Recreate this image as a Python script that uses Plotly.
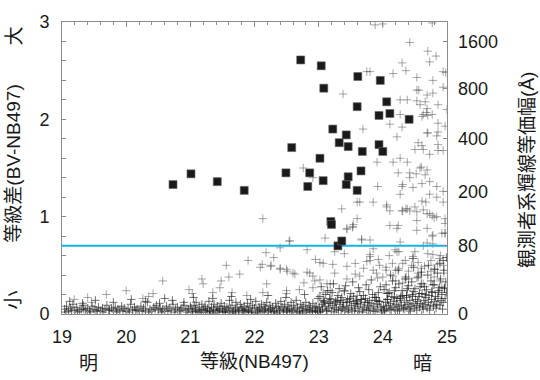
import plotly.graph_objects as go

# ---------------- data ----------------
x_min, x_max = 19, 25
y_min, y_max = 0, 3
ew_threshold = 0.7  # cyan line (80 A)

# right-axis equivalent-width labels and their positions on the left scale
ew_labels = ["0", "80", "200", "400", "800", "1600"]
ew_pos = [0.0, 0.70, 1.26, 1.80, 2.32, 2.80]

# selected emitters (filled squares)
sel_x = [20.73, 21.01, 21.42, 21.84, 22.49, 22.58, 22.72, 22.83, 22.86, 23.02,
         23.04, 23.07, 23.08, 23.19, 23.20, 23.22, 23.30, 23.36, 23.32, 23.43,
         23.43, 23.46, 23.46, 23.60, 23.60, 23.61, 23.66, 23.68, 23.94, 23.94,
         23.96, 24.00, 24.06, 24.11, 24.41]
sel_y = [1.33, 1.44, 1.36, 1.27, 1.45, 1.71, 2.61, 1.31, 1.45, 1.60,
         2.55, 1.37, 2.32, 0.95, 0.92, 1.90, 0.70, 0.75, 1.76, 1.84,
         1.33, 1.72, 1.41, 2.13, 1.27, 2.44, 1.47, 1.67, 2.04, 1.74,
         2.40, 1.67, 2.18, 2.06, 2.00]

# all detected objects (crosses): dense band at bottom, by magnitude range
band_a_x = [19.04, 19.07, 19.10, 19.13, 19.17, 19.20, 19.23, 19.27, 19.30, 19.33,
            19.37, 19.40, 19.43, 19.47, 19.50, 19.53, 19.57, 19.60, 19.63, 19.67,
            19.70, 19.73, 19.77, 19.80, 19.83, 19.87, 19.90, 19.93, 19.97, 20.00,
            20.03, 20.07, 20.10, 20.13, 20.17, 20.20, 20.23, 20.27, 20.30, 20.33,
            20.37, 20.40, 20.43, 20.47, 20.50, 20.53, 20.57, 20.60, 20.63, 20.67,
            20.70, 20.73, 20.77, 20.80, 20.83, 20.87, 20.90, 20.93, 20.97, 21.00,
            19.06, 19.15, 19.24, 19.34, 19.44, 19.55, 19.64, 19.74, 19.85, 19.95,
            20.05, 20.15, 20.25, 20.35, 20.45, 20.55, 20.65, 20.75, 20.85, 20.95,
            19.12, 19.32, 19.52, 19.80, 20.08, 20.30, 20.52, 20.72, 20.90, 20.60]
band_a_y = [.05, .08, .03, .06, .10, .04, .07, .03, .05, .09,
            .04, .06, .03, .08, .05, .04, .07, .03, .06, .05,
            .09, .04, .06, .03, .07, .05, .04, .08, .06, .03,
            .05, .10, .04, .07, .05, .03, .08, .06, .04, .12,
            .05, .03, .07, .09, .04, .06, .05, .03, .08, .06,
            .04, .10, .05, .07, .03, .06, .09, .04, .05, .08,
            .02, .04, .02, .05, .02, .03, .02, .04, .02, .03,
            .02, .04, .03, .02, .05, .02, .03, .02, .04, .02,
            .13, .11, .14, .12, .15, .13, .11, .14, .12, .16]

band_b_x = [21.01, 21.03, 21.06, 21.08, 21.09, 21.12, 21.14, 21.17, 21.18, 21.21,
            21.23, 21.24, 21.27, 21.29, 21.31, 21.33, 21.36, 21.37, 21.40, 21.42,
            21.43, 21.46, 21.48, 21.50, 21.53, 21.54, 21.57, 21.59, 21.61, 21.62,
            21.65, 21.67, 21.70, 21.71, 21.73, 21.76, 21.78, 21.80, 21.83, 21.84,
            21.87, 21.89, 21.91, 21.93, 21.96, 21.97, 22.00, 22.02, 22.04, 22.07,
            22.08, 22.11, 22.13, 22.15, 22.17, 22.19, 22.22, 22.24, 22.25, 22.28,
            22.30, 22.33, 22.34, 22.37, 22.39, 22.41, 22.43, 22.46, 22.47, 22.50,
            22.52, 22.54, 22.57, 22.58, 22.61, 22.63, 22.65, 22.67, 22.70, 22.72,
            22.74, 22.76, 22.79, 22.80, 22.83, 22.85, 22.87, 22.90, 22.91, 22.94,
            22.96, 22.98, 21.05, 21.35, 21.64, 21.94, 22.21, 22.49, 22.78, 22.99,
            21.04, 21.09, 21.15, 21.20, 21.26, 21.30, 21.35, 21.41, 21.45, 21.51,
            21.55, 21.60, 21.66, 21.70, 21.75, 21.81, 21.85, 21.90, 21.95, 22.01,
            22.05, 22.10, 22.16, 22.20, 22.26, 22.31, 22.35, 22.40, 22.45, 22.51,
            22.55, 22.60, 22.66, 22.71, 22.75, 22.81, 22.86, 22.90, 22.95, 22.99]
band_b_y = [.06, .03, .09, .05, .12, .04, .07, .02, .10, .05,
            .08, .04, .06, .13, .03, .07, .05, .10, .04, .08,
            .03, .06, .11, .05, .08, .02, .07, .04, .14, .06,
            .09, .03, .05, .12, .07, .04, .10, .06, .03, .08,
            .05, .11, .04, .07, .02, .09, .06, .13, .04, .07,
            .05, .10, .03, .08, .06, .12, .04, .09, .05, .07,
            .03, .11, .06, .08, .04, .13, .07, .05, .10, .03,
            .08, .06, .12, .04, .09, .05, .14, .07, .03, .10,
            .06, .08, .04, .12, .05, .09, .07, .03, .11, .06,
            .08, .04, .17, .16, .18, .15, .19, .17, .20, .16,
            .02, .03, .02, .04, .02, .03, .01, .02, .04, .02,
            .03, .02, .01, .03, .02, .04, .02, .03, .02, .01,
            .03, .02, .04, .02, .03, .02, .01, .03, .02, .04,
            .02, .03, .02, .01, .03, .02, .04, .02, .03, .02]

band_c_x = [23.01, 23.03, 23.05, 23.06, 23.09, 23.10, 23.12, 23.15, 23.16, 23.19,
            23.20, 23.22, 23.25, 23.27, 23.28, 23.31, 23.33, 23.34, 23.37, 23.39,
            23.41, 23.43, 23.44, 23.47, 23.49, 23.51, 23.52, 23.55, 23.57, 23.58,
            23.61, 23.63, 23.65, 23.66, 23.69, 23.71, 23.72, 23.75, 23.77, 23.79,
            23.80, 23.83, 23.85, 23.86, 23.89, 23.91, 23.92, 23.95, 23.97, 23.99,
            23.02, 23.13, 23.24, 23.35, 23.46, 23.56, 23.68, 23.78, 23.88, 23.98,
            23.02, 23.07, 23.11, 23.17, 23.21, 23.26, 23.30, 23.36, 23.40, 23.45,
            23.50, 23.54, 23.59, 23.64, 23.70, 23.73, 23.78, 23.84, 23.87, 23.93,
            23.04, 23.14, 23.23, 23.32, 23.42, 23.53, 23.62, 23.74, 23.82, 23.96,
            23.08, 23.18, 23.29, 23.38, 23.48, 23.60, 23.67, 23.76, 23.90, 23.94]
band_c_y = [.07, .03, .10, .05, .13, .08, .04, .11, .06, .15,
            .03, .09, .07, .12, .05, .04, .10, .14, .06, .08,
            .03, .12, .07, .05, .16, .09, .04, .11, .06, .13,
            .08, .03, .10, .15, .05, .07, .12, .04, .09, .14,
            .06, .11, .03, .08, .17, .05, .10, .13, .07, .04,
            .02, .03, .02, .04, .02, .03, .02, .04, .03, .02,
            .18, .14, .20, .16, .22, .13, .19, .17, .24, .15,
            .21, .18, .14, .23, .19, .16, .25, .20, .17, .22,
            .28, .24, .31, .26, .29, .33, .27, .30, .35, .28,
            .12, .11, .14, .12, .13, .11, .15, .12, .14, .13]

band_d_x = [24.01, 24.02, 24.04, 24.06, 24.07, 24.09, 24.11, 24.12, 24.14, 24.16,
            24.17, 24.19, 24.21, 24.22, 24.24, 24.26, 24.27, 24.29, 24.31, 24.32,
            24.34, 24.36, 24.37, 24.39, 24.41, 24.42, 24.44, 24.46, 24.47, 24.49,
            24.51, 24.52, 24.54, 24.56, 24.57, 24.59, 24.61, 24.62, 24.64, 24.66,
            24.67, 24.69, 24.71, 24.72, 24.74, 24.76, 24.77, 24.79, 24.81, 24.82,
            24.84, 24.86, 24.87, 24.89, 24.91, 24.92, 24.94, 24.96, 24.97, 24.99,
            24.03, 24.13, 24.23, 24.33, 24.43, 24.53, 24.63, 24.73, 24.83, 24.93,
            24.08, 24.18, 24.28, 24.38, 24.48, 24.58, 24.68, 24.78, 24.88, 24.98,
            24.02, 24.05, 24.10, 24.15, 24.20, 24.25, 24.30, 24.35, 24.40, 24.45,
            24.50, 24.55, 24.60, 24.65, 24.70, 24.75, 24.80, 24.85, 24.90, 24.95,
            24.07, 24.18, 24.27, 24.37, 24.46, 24.57, 24.66, 24.76, 24.86, 24.96,
            24.12, 24.24, 24.36, 24.48, 24.60, 24.71, 24.81, 24.89, 24.94, 24.99]
band_d_y = [.08, .04, .12, .06, .15, .09, .05, .11, .18, .07,
            .13, .05, .10, .16, .08, .04, .14, .09, .19, .06,
            .12, .07, .17, .10, .05, .14, .08, .20, .11, .06,
            .15, .09, .13, .18, .07, .11, .21, .08, .14, .10,
            .17, .06, .12, .19, .09, .15, .22, .08, .13, .18,
            .10, .16, .24, .09, .14, .20, .12, .27, .16, .22,
            .03, .04, .03, .05, .03, .04, .05, .04, .06, .05,
            .21, .24, .18, .26, .23, .28, .25, .30, .27, .33,
            .25, .30, .22, .34, .27, .31, .24, .36, .29, .33,
            .26, .38, .31, .28, .40, .34, .30, .42, .36, .45,
            .15, .17, .16, .19, .18, .21, .20, .23, .22, .26,
            .40, .45, .38, .48, .43, .50, .46, .52, .55, .58]

# sparse objects above the band
sparse_x = [19.19, 19.40, 19.69, 20.00, 20.57, 20.42, 20.26, 19.46, 20.35,
            21.56, 21.18, 21.20, 21.48, 21.60, 20.98, 21.03, 21.35, 21.65, 21.88,
            22.09, 22.26, 22.40, 22.50, 22.63, 22.82, 22.91, 23.02, 23.13, 22.50,
            22.13, 22.19, 22.77, 22.91, 23.07, 23.22, 23.44, 23.57, 23.02, 21.77, 21.46,
            23.60, 23.44, 23.53, 23.67, 22.54, 22.40, 22.18, 22.82, 23.25, 23.80,
            23.07, 23.25, 23.57, 23.75, 23.93, 24.31, 24.47, 24.53, 24.31, 24.36,
            24.50, 24.63, 24.77, 24.80, 24.97, 24.77, 24.78, 24.63, 24.69, 24.06,
            24.22, 22.40, 22.51, 22.60, 22.86, 22.12, 22.25, 22.94, 23.18, 23.44,
            23.64, 23.92, 24.16, 24.31, 24.63, 24.89, 24.92, 22.50, 22.70, 23.18,
            23.40, 23.60, 24.06, 24.38,
            24.63, 24.73, 24.86, 24.16, 24.38, 24.60, 24.69, 24.24, 24.42, 24.52,
            24.73, 24.30, 24.47, 24.61, 24.84, 24.94, 23.92, 24.27, 24.73, 24.84,
            24.61, 24.67, 24.38, 24.30, 24.53, 24.73, 24.84, 24.97, 24.06, 23.64,
            23.54, 24.11, 24.53, 24.78, 24.97, 23.67, 24.27, 24.69, 23.85, 24.19,
            24.25, 24.47, 24.88, 23.80,
            24.70, 24.83, 24.30, 24.73, 23.75, 23.80, 24.16, 24.36, 24.53, 24.78,
            24.98, 24.53, 24.69, 24.78, 24.94, 24.38, 24.53, 24.66, 24.58, 24.69,
            24.86, 25.00, 24.61, 24.70, 24.68, 24.11, 24.30, 24.86, 23.69, 24.69,
            24.86, 24.22, 24.55, 24.86, 24.61, 23.88, 24.00, 24.42, 24.27, 24.27,
            24.63, 24.77, 24.97, 24.77, 24.94, 24.56, 24.84, 24.70, 24.50, 24.94,
            24.27, 23.91, 24.58, 24.42, 24.66, 24.31, 24.94, 23.85, 24.11, 24.42,
            24.69, 24.53, 24.97, 24.24, 23.80, 24.92, 24.22, 24.47, 24.78,
            22.13, 22.55, 22.76, 22.91, 23.36, 23.60, 23.44, 23.53, 23.38, 23.10,
            23.40, 22.95, 22.30, 21.90, 23.70, 23.85, 24.05, 24.20, 24.40, 24.60,
            24.80, 24.95,
            23.80, 23.95, 24.05, 24.15, 24.25, 24.35, 24.45, 24.55, 24.65, 24.75,
            24.85, 24.90, 24.70, 24.50, 24.10, 23.90, 24.00, 24.20, 24.40, 24.60,
            24.80, 24.95, 24.75, 24.55]
sparse_y = [.15, .17, .20, .24, .34, .21, .16, .12, .18,
            .50, .36, .31, .34, .38, .25, .21, .22, .22, .19,
            .48, .50, .47, .46, .41, .43, .39, .35, .31, .21,
            .22, .31, .32, .27, .22, .51, .49, .41, .53, .41, .27,
            .98, .88, .90, .77, .75, .68, .63, .66, .64, .61,
            .52, .42, .52, .54, .56, .52, .57, .37, 1.06, 1.08,
            1.10, 1.07, 1.01, .99, .83, .80, .72, .70, .88, 1.10,
            .88, .46, .44, .42, .42, .51, .49, .34, .31, .36,
            .39, .37, .39, .32, .31, .34, .28, .24, .25, .24,
            .23, .19, .21, .24,
            1.69, 1.64, 1.68, 1.56, 1.56, 1.51, 1.48, 1.45, 1.40, 1.44,
            1.36, 1.31, 1.30, 1.34, 1.31, 1.26, 1.31, 1.23, 1.23, 1.20,
            1.16, 1.15, 1.08, 1.06, 1.05, 1.03, 1.00, .98, 1.12, 1.15,
            .92, .91, .86, .81, .83, .76, .74, .73, .67, .66,
            .64, .57, .57, .59,
            2.70, 2.65, 2.58, 2.59, 2.49, 2.49, 2.47, 2.50, 2.43, 2.40,
            2.48, 2.30, 2.25, 2.27, 2.33, 2.20, 2.19, 2.18, 2.15, 2.11,
            2.15, 2.10, 2.03, 2.04, 2.07, 1.95, 1.92, 1.96, 1.90, 1.86,
            1.87, 1.82, 1.76, 1.74, 1.73, 2.97, 2.98, 2.79, 2.20, 2.05,
            2.05, 2.05, 1.93, 2.99, 2.49, 2.30, 1.83, 1.86, 1.69, 1.68,
            1.60, 1.56, 1.50, 1.45, 1.43, 1.33, 1.15, 1.15, 1.06, 1.06,
            1.03, .96, .93, .91, .76, .83, .64, .59, .61,
            .98, .75, 1.50, 1.40, 1.08, 1.15, .87, .89, 2.26, .78,
            .62, .56, .58, .55, .47, .45, .48, .45, .44, .47,
            .46, .50,
            .55, .50, .45, .52, .47, .55, .50, .53, .49, .55,
            .51, .60, .62, .64, .60, .42, .38, .34, .36, .40,
            .38, .42, .44, .42]

# ---------------- figure ----------------
band_x = band_a_x + band_b_x + band_c_x + band_d_x
band_y = band_a_y + band_b_y + band_c_y + band_d_y

cjk = "Liberation Sans, Noto Sans CJK JP, sans-serif"
ink = "#1a1a1a"

fig = go.Figure()
fig.add_trace(go.Scatter(
    x=sparse_x, y=sparse_y, mode="markers", hoverinfo="skip",
    marker=dict(symbol="cross-thin", size=6, color="rgba(80,80,80,0.5)",
                line=dict(width=1, color="rgba(80,80,80,0.5)")),
))
fig.add_trace(go.Scatter(
    x=band_x, y=band_y, mode="markers", hoverinfo="skip",
    marker=dict(symbol="cross-thin", size=6, color="rgba(20,20,20,0.6)",
                line=dict(width=1, color="rgba(20,20,20,0.6)")),
))
fig.add_trace(go.Scatter(
    x=[x_min, x_max], y=[ew_threshold, ew_threshold], mode="lines",
    line=dict(color="#10b4ea", width=2), hoverinfo="skip",
))
fig.add_trace(go.Scatter(
    x=sel_x, y=sel_y, mode="markers", hoverinfo="skip",
    marker=dict(symbol="square", size=8, color=ink,
                line=dict(width=0.6, color="#666")),
))
# anchor trace for the right-hand axis
fig.add_trace(go.Scatter(x=[x_min], y=[y_min], yaxis="y2", mode="markers",
                         marker=dict(opacity=0), hoverinfo="skip"))

axis_line = "#8c8c8c"
fig.update_layout(
    width=540, height=380,
    margin=dict(l=62, r=93, t=12, b=66),
    paper_bgcolor="white", plot_bgcolor="white",
    showlegend=False,
    font=dict(family=cjk, size=18, color=ink),
    xaxis=dict(range=[x_min, x_max], tickvals=[19, 20, 21, 22, 23, 24, 25],
               ticks="inside", ticklen=5, tickcolor=axis_line,
               minor=dict(ticks="inside", ticklen=3, dtick=0.2, tickcolor=axis_line),
               showline=True, linecolor=axis_line, linewidth=1, mirror="ticks",
               showgrid=False, zeroline=False, ticklabelstandoff=6,
               tickfont=dict(size=18)),
    yaxis=dict(range=[y_min, y_max], tickvals=[0, 1, 2, 3],
               ticks="inside", ticklen=4, tickcolor=axis_line,
               minor=dict(ticks="inside", ticklen=4, dtick=0.2, tickcolor=axis_line),
               showline=True, linecolor=axis_line, linewidth=1, mirror=True,
               showgrid=False, zeroline=False, ticklabelstandoff=8,
               tickfont=dict(size=18)),
    yaxis2=dict(range=[y_min, y_max], overlaying="y", side="right",
                tickvals=ew_pos, ticktext=ew_labels,
                ticks="inside", ticklen=4, tickcolor=axis_line,
                showline=False, showgrid=False, zeroline=False,
                ticklabelstandoff=10, tickfont=dict(size=18)),
)

def px_to_paper(px, py):
    return (px - 62) / 385, (314 - py) / 302

labels = [
    ("等級差(BV-NB497)", 13.5, 159, -90, 19),
    ("大", 15, 27, -90, 19),
    ("小", 13, 300, -90, 19),
    ("観測者系輝線等価幅(Å)", 528, 165, -90, 19),
    ("等級(NB497)", 255, 363, 0, 19),
    ("明", 88, 365, 0, 19),
    ("暗", 422, 365, 0, 19),
]
for text, px, py, ang, sz in labels:
    xp, yp = px_to_paper(px, py)
    fig.add_annotation(text=text, x=xp, y=yp, xref="paper", yref="paper",
                       xanchor="center", yanchor="middle", textangle=ang,
                       showarrow=False, font=dict(family=cjk, size=sz, color=ink))

fig.write_html("out.html")
